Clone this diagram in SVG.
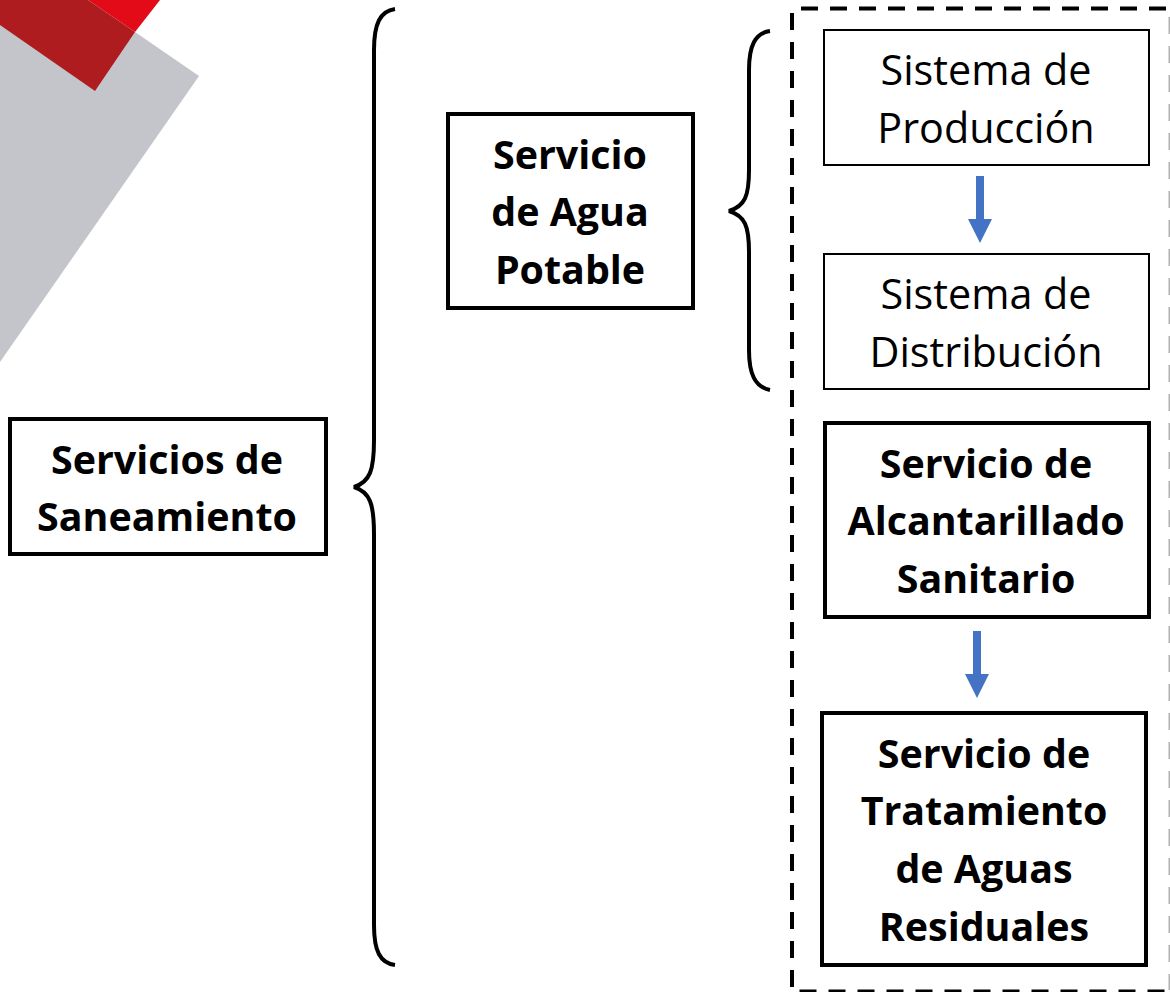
<svg xmlns="http://www.w3.org/2000/svg" width="1170" height="992" viewBox="0 0 1170 992">
<style>
text{font-family:"Open Sans","Lato",sans-serif;fill:#000;text-anchor:middle}
.b{font-weight:700;font-size:39.4px}
.r{font-weight:400;font-size:41.3px}
.box{fill:#fff;stroke:#000;stroke-linejoin:miter}
.thick{stroke-width:4}
.thin{stroke-width:2}
.brace{fill:none;stroke:#000;stroke-width:4;stroke-linejoin:bevel}
.dash{fill:none;stroke-width:4;stroke-dasharray:17 12}
.arrow{fill:#4472c4}
</style>
<rect width="1170" height="992" fill="#fff"/>
<g id="logo">
<polygon points="0,25 135,32 199,76 0,362" fill="#c4c5ca"/>
<polygon points="88,0 160,0 135,32" fill="#e30b17"/>
<polygon points="0,0 88,0 135,32 95,91 0,25" fill="#ae1c1f"/>
</g>
<g id="connectors">
<path class="brace" d="M395,9 C380,11 374,24 374,50 V440 C374,470 370,482 354,487 C370,492 374,504 374,534 V925 C374,951 380,963 395,965"/>
<path class="brace" d="M770,31 C755,33 749,46 749,70 V170 C749,196 745,206 729,211 C745,216 749,226 749,252 V350 C749,374 755,387 770,390"/>
<path class="arrow" d="M976,176 H984 V219 H992 L980,243 L968,219 H976 Z"/>
<path class="arrow" d="M973,631 H981 V674 H989 L977,698 L965,674 H973 Z"/>
</g>
<g id="frame">
<path class="dash" stroke="#000" d="M801,8.500H1170"/>
<path class="dash" stroke="#000" d="M792,13V991.500H1170"/>
<path fill="none" stroke="#b0b0b0" stroke-width="2" stroke-dasharray="17 12" d="M1169.500,17V990"/>
</g>
<g id="servicios-saneamiento">
<rect class="box thick" x="10" y="419" width="316" height="135"/>
<text class="b" x="167" y="474">Servicios de</text>
<text class="b" x="167" y="531">Saneamiento</text>
</g>
<g id="agua-potable">
<rect class="box thick" x="448" y="114" width="245" height="194"/>
<text class="b" x="570" y="169">Servicio</text>
<text class="b" x="570" y="226">de Agua</text>
<text class="b" x="570" y="284">Potable</text>
</g>
<g id="produccion">
<rect class="box thin" x="824" y="30" width="325" height="135"/>
<text class="r" x="986" y="85">Sistema de</text>
<text class="r" x="986" y="143">Producción</text>
</g>
<g id="distribucion">
<rect class="box thin" x="824" y="254" width="325" height="135"/>
<text class="r" x="986" y="309">Sistema de</text>
<text class="r" x="986" y="367">Distribución</text>
</g>
<g id="alcantarillado">
<rect class="box thick" x="825" y="423" width="324" height="194"/>
<text class="b" x="986" y="478">Servicio de</text>
<text class="b" x="986" y="535">Alcantarillado</text>
<text class="b" x="986" y="593">Sanitario</text>
</g>
<g id="tratamiento">
<rect class="box thick" x="822" y="713" width="324" height="252"/>
<text class="b" x="984" y="768">Servicio de</text>
<text class="b" x="984" y="825">Tratamiento</text>
<text class="b" x="984" y="883">de Aguas</text>
<text class="b" x="984" y="941">Residuales</text>
</g>
</svg>
